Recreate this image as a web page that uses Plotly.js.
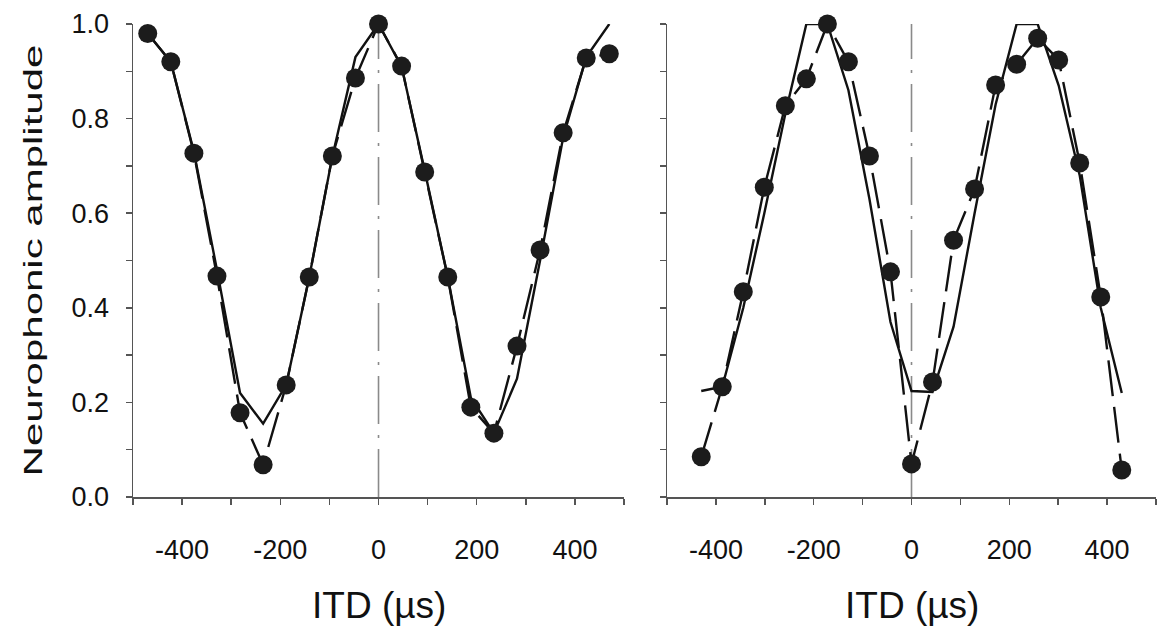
<!DOCTYPE html>
<html>
<head>
<meta charset="utf-8">
<script src="https://cdn.plot.ly/plotly-3.0.1.min.js"></script>
<style>
  html, body { margin: 0; padding: 0; background: #ffffff; }
  #chart { width: 1163px; height: 627px; }
</style>
</head>
<body>
<div id="chart"></div>
<script>
// Left panel: neurophonic amplitude vs ITD, ~47 µs steps
const itdLeft = [-470, -423, -376, -329, -282, -235, -188, -141, -94, -47, 0, 47, 94, 141, 188, 235, 282, 329, 376, 423, 470];
const ampLeftMeasured = [0.98, 0.92, 0.727, 0.467, 0.178, 0.068, 0.237, 0.465, 0.721, 0.886, 1.0, 0.911, 0.687, 0.465, 0.19, 0.135, 0.319, 0.522, 0.77, 0.928, 0.937];
const ampLeftModel = [0.98, 0.92, 0.73, 0.48, 0.22, 0.155, 0.237, 0.465, 0.72, 0.93, 1.0, 0.91, 0.69, 0.465, 0.21, 0.135, 0.25, 0.50, 0.76, 0.93, 1.0];

// Right panel: ~43 µs steps
const itdRight = [-430, -387, -344, -301, -258, -215, -172, -129, -86, -43, 0, 43, 86, 129, 172, 215, 258, 301, 344, 387, 430];
const ampRightMeasured = [0.085, 0.233, 0.434, 0.655, 0.827, 0.884, 1.0, 0.92, 0.721, 0.476, 0.07, 0.243, 0.543, 0.651, 0.871, 0.915, 0.97, 0.924, 0.706, 0.423, 0.057];
const ampRightModel = [0.224, 0.233, 0.40, 0.60, 0.81, 1.0, 1.0, 0.86, 0.63, 0.37, 0.224, 0.222, 0.36, 0.60, 0.83, 1.0, 1.0, 0.87, 0.68, 0.40, 0.22];

// axis ticks and labels
const xTickVals = [-400, -200, 0, 200, 400];
const xTickText = ['-400', '-200', '0', '200', '400'];
const yTickVals = [0, 0.2, 0.4, 0.6, 0.8, 1.0];
const yTickText = ['0.0', '0.2', '0.4', '0.6', '0.8', '1.0'];

const xTitle = 'ITD (µs)';
const yTitle = 'Neurophonic amplitude';

const INK = '#111111';
const AXIS = '#555555';
const FONT = 'Liberation Sans, Arial, Helvetica, sans-serif';

function modelTrace(x, y, xa, ya) {
  return { x: x, y: y, xaxis: xa, yaxis: ya, type: 'scatter', mode: 'lines', cliponaxis: false,
           line: { color: INK, width: 2.4 }, hoverinfo: 'skip' };
}
function measuredTrace(x, y, xa, ya) {
  return { x: x, y: y, xaxis: xa, yaxis: ya, type: 'scatter', mode: 'lines+markers', cliponaxis: false,
           line: { color: INK, width: 2.4, dash: '36px,11px' },
           marker: { color: '#1c1c1c', size: 19, line: { width: 0 } }, hoverinfo: 'skip' };
}

const traces = [
  modelTrace(itdLeft, ampLeftModel, 'x', 'y'),
  measuredTrace(itdLeft, ampLeftMeasured, 'x', 'y'),
  modelTrace(itdRight, ampRightModel, 'x2', 'y2'),
  measuredTrace(itdRight, ampRightMeasured, 'x2', 'y2')
];

const tickStyle = { ticks: 'outside', ticklen: 6, tickwidth: 1.5, tickcolor: AXIS };

function xAxis(domain) {
  return Object.assign({
    domain: domain, range: [-500, 500],
    tickmode: 'array', tickvals: xTickVals, ticktext: xTickText,
    showline: true, linecolor: AXIS, linewidth: 1.5,
    showgrid: false, zeroline: false, fixedrange: true,
    minor: Object.assign({ tickmode: 'linear', dtick: 100, tick0: 0 }, tickStyle),
    tickfont: { size: 27, color: INK, family: FONT },
    ticklabelstandoff: 22
  }, tickStyle);
}
function yAxis(anchor, labels) {
  const ax = Object.assign({
    anchor: anchor, domain: [0, 1], range: [0, 1],
    tickmode: 'array', tickvals: yTickVals, ticktext: yTickText,
    showline: true, linecolor: AXIS, linewidth: 1.5,
    showgrid: false, zeroline: false, fixedrange: true,
    minor: Object.assign({ tickmode: 'linear', dtick: 0.1, tick0: 0 }, tickStyle),
    showticklabels: labels,
    tickfont: { size: 27, color: INK, family: FONT },
    ticklabelstandoff: 11
  }, tickStyle);
  if (labels) {
    ax.title = { text: yTitle, font: { size: 42, color: INK, family: FONT }, standoff: 12 };
  }
  return ax;
}

// x-axis titles, centred under each panel
function xTitleNote(xref) {
  return { text: xTitle, xref: xref, yref: 'paper', x: 0.5, y: 0, xanchor: 'center', yanchor: 'top',
           yshift: -86, showarrow: false, font: { size: 37, color: INK, family: FONT } };
}

// dash-dot reference line at zero ITD in each panel
function zeroLine(xref, yref) {
  return { type: 'line', xref: xref, yref: yref, x0: 0, x1: 0, y0: 0, y1: 1,
           line: { color: '#8a8a8a', width: 1.6, dash: '48px,11px,3px,11px' }, layer: 'below' };
}

const layout = {
  width: 1163, height: 627,
  margin: { l: 133, r: 7, t: 24, b: 130 },
  paper_bgcolor: '#ffffff', plot_bgcolor: '#ffffff',
  showlegend: false,
  font: { family: FONT, color: INK },
  xaxis: Object.assign(xAxis([0, 0.48]), { anchor: 'y' }),
  yaxis: yAxis('x', true),
  xaxis2: Object.assign(xAxis([0.522, 1]), { anchor: 'y2' }),
  yaxis2: yAxis('x2', false),
  shapes: [zeroLine('x', 'y'), zeroLine('x2', 'y2')],
  annotations: [xTitleNote('x domain'), xTitleNote('x2 domain')]
};

// horizontal centre of the y title, px from the left edge
const Y_TITLE_CENTER = 33;

Plotly.newPlot('chart', traces, layout, { staticPlot: true, displayModeBar: false }).then(function (gd) {
  // condense the rotated y title across its glyph height, keeping its length,
  // then set it at a fixed distance from the left edge
  const t = gd.querySelector('.g-ytitle text');
  if (t) {
    const x = +t.getAttribute('x'), y = +t.getAttribute('y');
    const squeeze = 'rotate(-90,' + x + ',' + y + ') translate(' + x + ',' + y + ') scale(1,0.6) translate(' + (-x) + ',' + (-y) + ')';
    t.setAttribute('transform', squeeze);
    const b = t.getBoundingClientRect();
    const dx = Y_TITLE_CENTER - (b.left + b.right) / 2;
    t.setAttribute('transform', 'translate(' + dx + ',0) ' + squeeze);
  }
});
</script>
</body>
</html>
